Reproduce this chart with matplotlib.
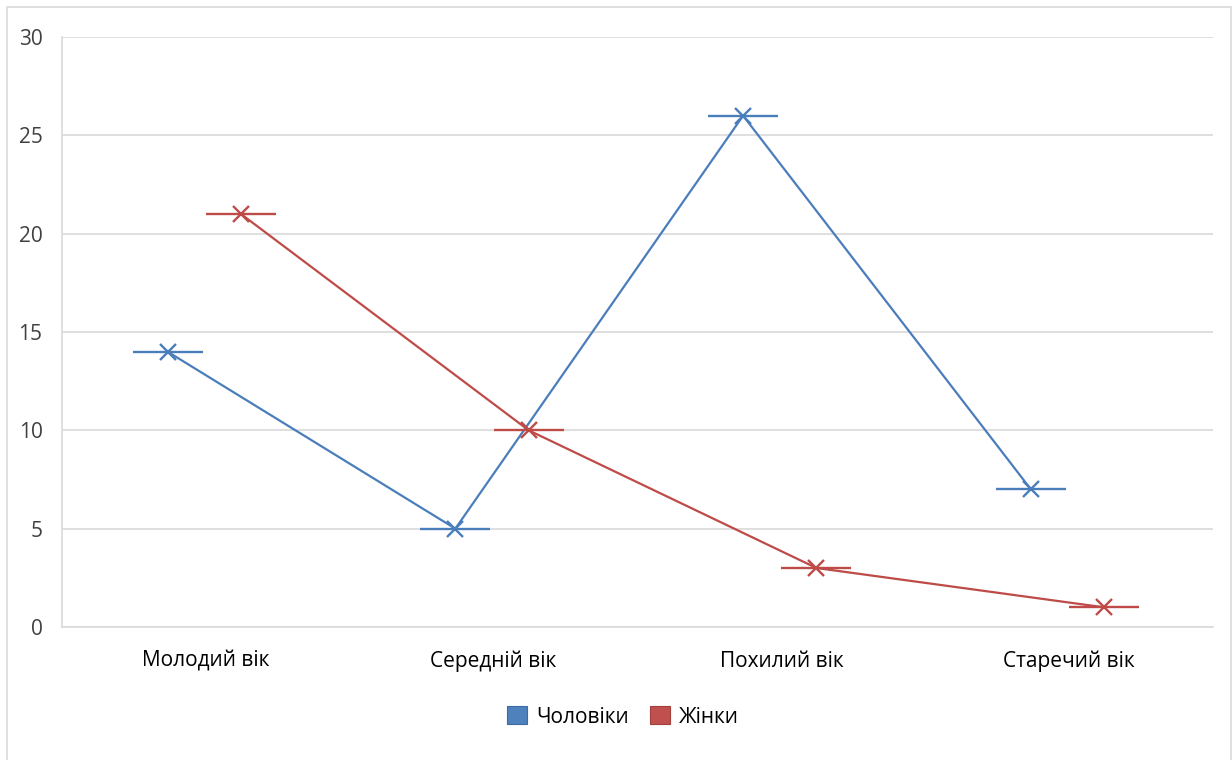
import matplotlib
matplotlib.use("Agg")
import matplotlib.pyplot as plt
from matplotlib.patches import Rectangle, Patch
import numpy as np

categories = ["Молодий вік", "Середній вік", "Похилий вік", "Старечий вік"]
men = [14, 5, 26, 7]
women = [21, 10, 3, 1]
series_names = ["Чоловіки", "Жінки"]
y_ticks = [0, 5, 10, 15, 20, 25, 30]

blue = "#4A7EBB"
red = "#BE4B48"
blue_fill = "#4F81BD"
red_fill = "#C0504D"
grid_col = "#D9D9D9"
text_col = "#404040"

plt.rcParams["font.family"] = ["Open Sans", "DejaVu Sans"]

fig = plt.figure(figsize=(12.32, 7.6), dpi=100)
fig.patch.set_facecolor("white")

# outer chart-area frame
fig.patches.append(Rectangle((7 / 1232, -0.05), (1231 - 7) / 1232, 1 - 7 / 760 + 0.05,
                             transform=fig.transFigure, fill=False,
                             edgecolor="#D9D9D9", linewidth=1.2, zorder=0))

ax = fig.add_axes([62 / 1232, 1 - 627 / 760, (1213 - 62) / 1232, (627 - 37) / 760])

x = np.arange(len(categories))
offsets = [-0.133, 0.122]
colors = [blue, red]

for vals, off, col, name in zip([men, women], offsets, colors, series_names):
    xs = x + off
    ax.plot(xs, vals, color=col, linewidth=1.6, zorder=3, label=name)
    ax.plot(xs, vals, linestyle="none", marker="_", markersize=50,
            markeredgewidth=1.7, color=col, zorder=4)
    ax.plot(xs, vals, linestyle="none", marker="x", markersize=11,
            markeredgewidth=1.7, color=col, zorder=4)

ax.set_xlim(-0.5, len(categories) - 0.5)
ax.set_ylim(0, 30)
ax.set_yticks(y_ticks)
ax.set_xticks(x)
ax.set_xticklabels(categories)
ax.yaxis.grid(True, color=grid_col, linewidth=1.2)
ax.set_axisbelow(True)
for side in ["top", "right"]:
    ax.spines[side].set_visible(False)
ax.spines["left"].set_color(grid_col)
ax.spines["bottom"].set_color(grid_col)
ax.spines["left"].set_linewidth(1.2)
ax.spines["bottom"].set_linewidth(1.2)
ax.tick_params(axis="both", length=0, labelsize=15, colors=text_col)
ax.tick_params(axis="x", pad=17, colors="#000000")
ax.tick_params(axis="y", pad=14)
for lbl in ax.get_yticklabels():
    lbl.set_color(text_col)

handles = [Patch(facecolor=blue_fill, edgecolor="#3A6BA5", linewidth=0.8),
           Patch(facecolor=red_fill, edgecolor="#A0403D", linewidth=0.8)]
fig.legend(handles, series_names, loc="center", bbox_to_anchor=(623 / 1232, 1 - 717 / 760),
           ncol=2, frameon=False, fontsize=15, handlelength=0.95, handleheight=0.95,
           handletextpad=0.45, columnspacing=1.0)

fig.savefig("out.png", dpi=100, facecolor="white")
